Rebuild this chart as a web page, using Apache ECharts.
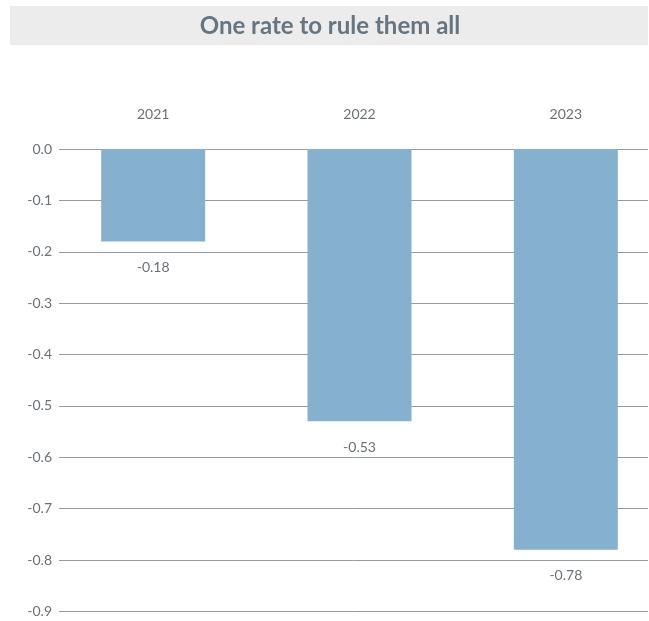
<!DOCTYPE html>
<html>
<head>
<meta charset="utf-8">
<script src="https://cdn.jsdelivr.net/npm/echarts@6/dist/echarts.min.js"></script>
<style>
html,body{margin:0;padding:0;background:#fff;}
#chart{width:649px;height:621px;}
</style>
</head>
<body>
<div id="chart"></div>
<script>
const titleText = 'One rate to rule them all';
const categories = ['2021', '2022', '2023'];
const values = [-0.18, -0.53, -0.78];
const yMin = -0.9;
const yMax = 0;
const yInterval = 0.1;

const chart = echarts.init(document.getElementById('chart'), null, {renderer: 'canvas'});
const font = 'Lato, "Open Sans", sans-serif';
const textColor = '#6b7177';

chart.setOption({
  animation: false,
  graphic: [{
    type: 'rect',
    left: 10, top: 6,
    shape: {width: 638, height: 39},
    style: {fill: '#ececec'},
    z: -1
  }],
  title: {
    text: titleText,
    left: 330, top: 26,
    textAlign: 'center', textVerticalAlign: 'middle',
    padding: 0,
    textStyle: {fontFamily: font, fontWeight: 'bold', fontSize: 24, color: '#667580'}
  },
  grid: [
    {left: 59, width: 589, top: 149, height: 462.5, outerBoundsMode: 'none'},
    {left: 50, width: 619, top: 149, height: 462.5, outerBoundsMode: 'none'}
  ],
  xAxis: [
    {gridIndex: 0, type: 'value', show: false},
    {
      gridIndex: 1, type: 'category', data: categories, position: 'top',
      axisLine: {show: false}, axisTick: {show: false},
      axisLabel: {margin: 28, color: textColor, fontFamily: font, fontSize: 14}
    }
  ],
  yAxis: [
    {
      gridIndex: 0, type: 'value', min: yMin, max: yMax, interval: yInterval,
      axisLine: {show: false}, axisTick: {show: false},
      axisLabel: {margin: 7, color: textColor, fontFamily: font, fontSize: 14,
        formatter: v => v.toFixed(1)},
      splitLine: {lineStyle: {color: '#949ca3', width: 1}}
    },
    {
      gridIndex: 1, type: 'value', min: yMin, max: yMax, interval: yInterval,
      show: false, splitLine: {show: false}
    }
  ],
  series: [{
    type: 'bar',
    xAxisIndex: 1, yAxisIndex: 1,
    data: values,
    barWidth: 104,
    itemStyle: {color: '#85b1cf'},
    label: {
      show: true, position: 'bottom', distance: 19,
      color: textColor, fontFamily: font, fontSize: 14,
      formatter: p => p.value.toFixed(2)
    }
  }]
});
</script>
</body>
</html>
